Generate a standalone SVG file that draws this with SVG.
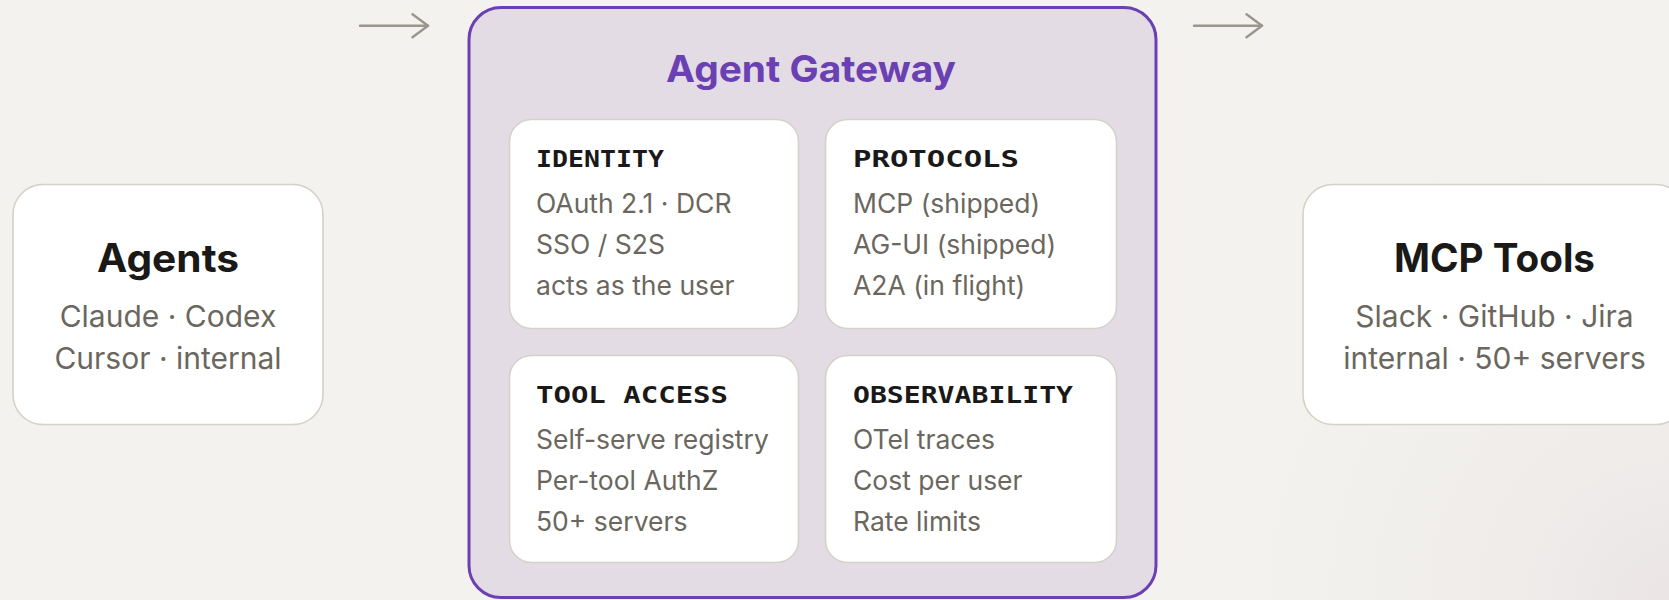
<svg xmlns="http://www.w3.org/2000/svg" width="1669" height="600" viewBox="0 0 1669 600">
  <defs>
    <radialGradient id="vignette" cx="1669" cy="600" r="520" gradientUnits="userSpaceOnUse">
      <stop offset="0" stop-color="#ebe5e6" stop-opacity="1"/>
      <stop offset="1" stop-color="#f3f2ee" stop-opacity="0"/>
    </radialGradient>
    <marker id="chev" viewBox="0 0 20 28" markerWidth="20" markerHeight="28" refX="17" refY="14" orient="auto" markerUnits="userSpaceOnUse">
      <path d="M1.5,2.5 L17,14 L1.5,25.5" fill="none" stroke="#9b968d" stroke-width="2.4" stroke-linecap="round" stroke-linejoin="round"/>
    </marker>
  </defs>
  <style>
    .side { fill: #ffffff; stroke: #d6d1c7; stroke-width: 1.6; }
    .card { fill: #ffffff; stroke: #d6d1c7; stroke-width: 1.6; }
    .gw { fill: #e3dce5; stroke: #6b40b3; stroke-width: 3; }
    .head { font-family: Inter, "Liberation Sans", sans-serif; font-weight: 700; font-size: 39px; fill: #1a1918; text-anchor: middle; }
    .sub { font-family: Inter, "Liberation Sans", sans-serif; font-size: 30px; fill: #6b675e; text-anchor: middle; }
    .gwtitle { font-family: Inter, "Liberation Sans", sans-serif; font-weight: 700; font-size: 37px; fill: #6b40b3; text-anchor: middle; }
    .ctitle { font-family: "DejaVu Sans Mono", monospace; font-weight: 700; font-size: 23px; fill: #1a1918; }
    .body { font-family: Inter, "Liberation Sans", sans-serif; font-size: 26.5px; fill: #6b675e; }
    .conn { fill: none; stroke: #9b968d; stroke-width: 2.4; stroke-linecap: round; }
  </style>
  <rect x="0" y="0" width="1669" height="600" fill="#f3f2ee"/>
  <rect x="0" y="0" width="1669" height="600" fill="url(#vignette)"/>

  <g id="connectors">
    <path class="conn" d="M360,25.7 L428,25.7" marker-end="url(#chev)"/>
    <path class="conn" d="M1194,25.7 L1262,25.7" marker-end="url(#chev)"/>
  </g>

  <g id="agents">
    <rect class="side" x="13" y="184.5" width="310" height="240" rx="30"/>
    <text class="head" x="168" y="272" textLength="142" lengthAdjust="spacingAndGlyphs">Agents</text>
    <text class="sub" x="168" y="327">Claude · Codex</text>
    <text class="sub" x="168" y="369">Cursor · internal</text>
  </g>

  <g id="gateway">
    <rect class="gw" x="469" y="7.5" width="687" height="590" rx="32"/>
    <text class="gwtitle" x="811" y="82" textLength="290" lengthAdjust="spacingAndGlyphs">Agent Gateway</text>
  </g>

  <g id="identity">
    <rect class="card" x="509.5" y="119.5" width="289" height="209" rx="22"/>
    <text class="ctitle" x="536" y="167" textLength="128" lengthAdjust="spacingAndGlyphs">IDENTITY</text>
    <text class="body" x="536" y="213">OAuth 2.1 · DCR</text>
    <text class="body" x="536" y="254">SSO / S2S</text>
    <text class="body" x="536" y="295">acts as the user</text>
  </g>

  <g id="protocols">
    <rect class="card" x="825.5" y="119.5" width="291" height="209" rx="22"/>
    <text class="ctitle" x="853" y="167" textLength="166" lengthAdjust="spacingAndGlyphs">PROTOCOLS</text>
    <text class="body" x="853" y="213">MCP (shipped)</text>
    <text class="body" x="853" y="254">AG-UI (shipped)</text>
    <text class="body" x="853" y="295">A2A (in flight)</text>
  </g>

  <g id="tool-access">
    <rect class="card" x="509.5" y="355.5" width="289" height="207" rx="22"/>
    <text class="ctitle" x="536" y="403" textLength="192" lengthAdjust="spacingAndGlyphs">TOOL ACCESS</text>
    <text class="body" x="536" y="449">Self-serve registry</text>
    <text class="body" x="536" y="490">Per-tool AuthZ</text>
    <text class="body" x="536" y="531">50+ servers</text>
  </g>

  <g id="observability">
    <rect class="card" x="825.5" y="355.5" width="291" height="207" rx="22"/>
    <text class="ctitle" x="853" y="403" textLength="220" lengthAdjust="spacingAndGlyphs">OBSERVABILITY</text>
    <text class="body" x="853" y="449">OTel traces</text>
    <text class="body" x="853" y="490">Cost per user</text>
    <text class="body" x="853" y="531">Rate limits</text>
  </g>

  <g id="mcp-tools">
    <rect class="side" x="1303" y="184.5" width="383" height="240" rx="30"/>
    <text class="head" x="1494.5" y="272" textLength="201" lengthAdjust="spacingAndGlyphs">MCP Tools</text>
    <text class="sub" x="1494.5" y="327">Slack · GitHub · Jira</text>
    <text class="sub" x="1494.5" y="369">internal · 50+ servers</text>
  </g>
</svg>
